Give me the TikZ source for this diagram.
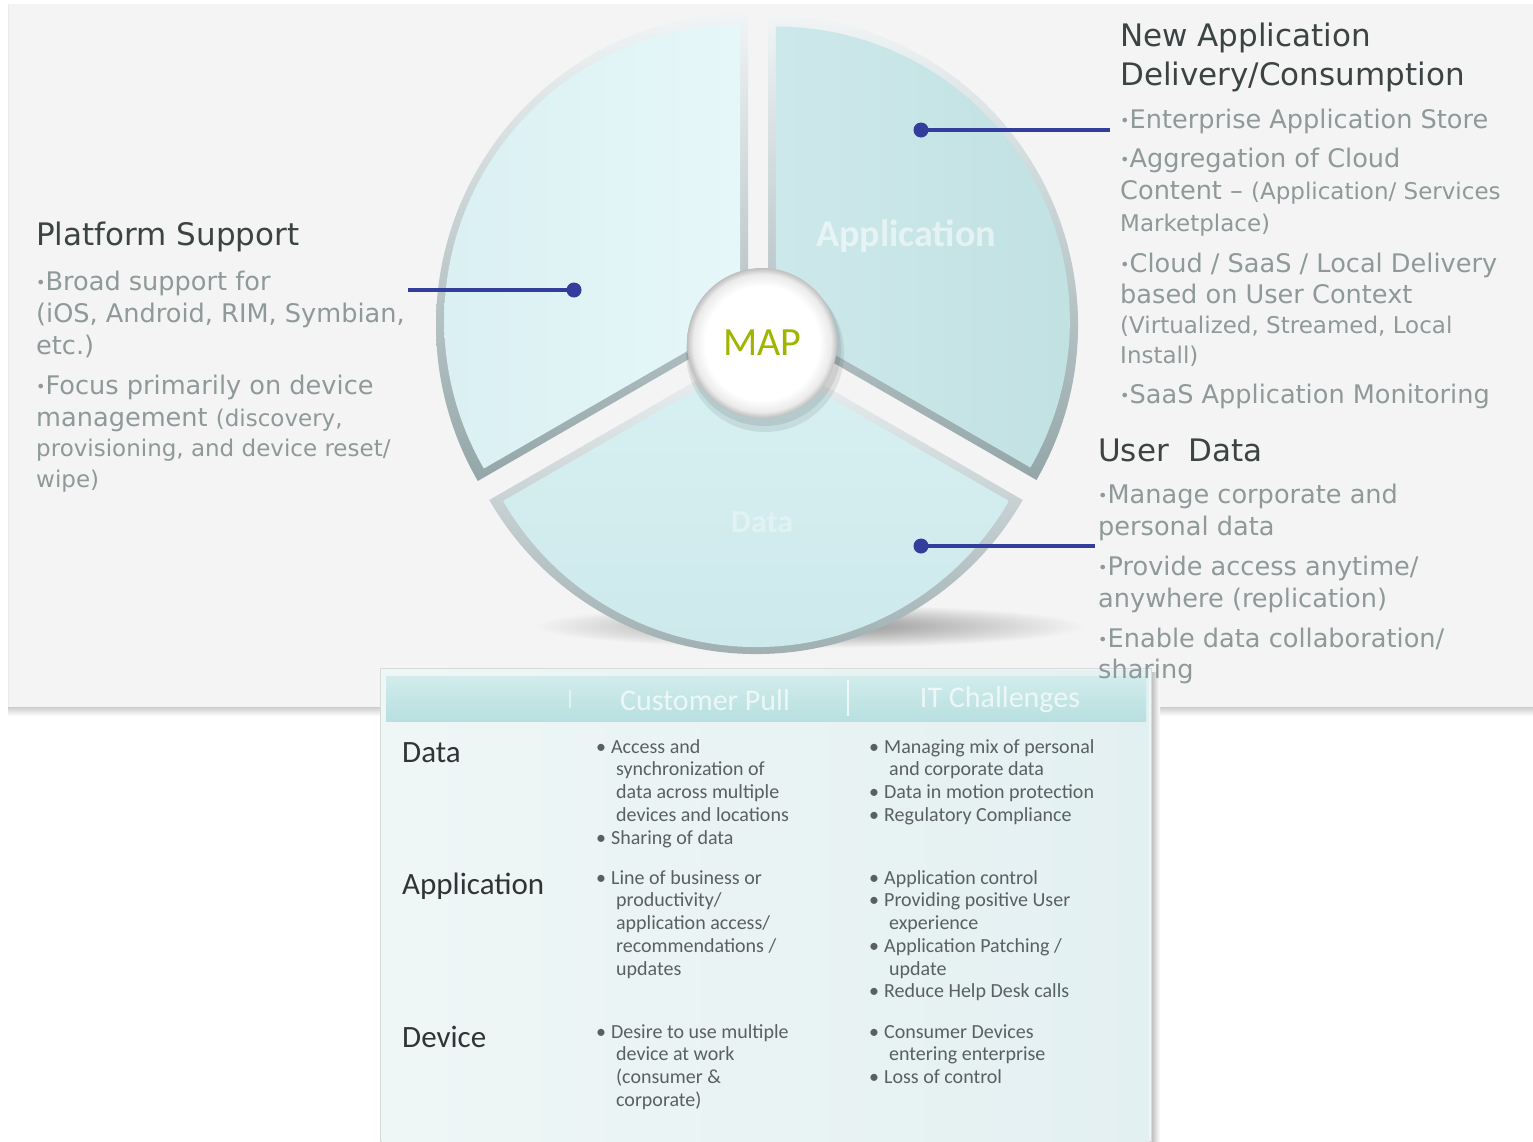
\documentclass[tikz,border=0pt]{standalone}
\usepackage{fontspec}
\setmainfont{DejaVu Sans}
\newfontfamily\tabfont{Carlito}
\usetikzlibrary{calc}
\definecolor{panelbg}{HTML}{F4F4F4}
\definecolor{headc}{HTML}{3C4343}
\definecolor{bodyc}{HTML}{8F9999}
\definecolor{connc}{HTML}{333D9B}
\definecolor{mapgreen}{HTML}{A0B400}
\definecolor{rimlight}{HTML}{F0F4F5}
\definecolor{rimdark}{HTML}{94A6A9}
\definecolor{faceLa}{HTML}{DAF0F2}
\definecolor{faceLb}{HTML}{E6F7F9}
\definecolor{faceRa}{HTML}{CDE8EA}
\definecolor{faceRb}{HTML}{C0E0E2}
\definecolor{faceBa}{HTML}{D8F0F2}
\definecolor{faceBb}{HTML}{CCE8EB}
\definecolor{hdra}{HTML}{D2ECEC}
\definecolor{hdrb}{HTML}{B8DFE0}
\definecolor{taba}{HTML}{EFF6F6}
\definecolor{tabb}{HTML}{E3F0F1}
\definecolor{rowc}{HTML}{2F3535}
\definecolor{itemc}{HTML}{5A6060}
\newcommand\smtxt[1]{{\fontsize{23}{28}\selectfont #1}}
\newcommand\bul{\raisebox{1.5pt}{\fontsize{16}{16}\selectfont •}}
\newcommand\cellfont{\tabfont\fontsize{20}{22.75}\selectfont}
\pgfdeclareradialshading{capshade}{\pgfpointorigin}{color(0bp)=(white); color(19bp)=(white); color(23bp)=(black!8); color(25bp)=(black!25); color(50bp)=(black!25)}
\begin{document}
\begin{tikzpicture}[x=1pt,y=-1pt,
  head/.style={font=\fontsize{31}{36}\selectfont, text=headc, anchor=base west, inner sep=0pt},
  body/.style={font=\fontsize{25.6}{31}\selectfont, text=bodyc, anchor=base west, inner sep=0pt},
  rowlabel/.style={font=\tabfont\fontsize{31}{36}\selectfont, text=rowc, anchor=base west, inner sep=0pt},
  cell/.style={font=\cellfont, text=itemc, anchor=base west, inner sep=0pt},
  hdrtext/.style={font=\tabfont\fontsize{30}{36}\selectfont, text=white, text opacity=0.7, inner sep=0pt},
  pielabel/.style={font=\tabfont\bfseries\fontsize{38}{44}\selectfont, text=white, inner sep=0pt},
  dot/.style={circle, fill=connc, inner sep=0pt, minimum size=15pt},
  conn/.style={draw=connc, line width=3.5pt},
  mapcap/.style={circle, minimum size=150pt, inner sep=0pt, shade, shading=capshade, text=mapgreen, font=\tabfont\fontsize{40}{44}\selectfont}
]
\useasboundingbox (0,0) rectangle (1533,1141);
\fill[white] (0,0) rectangle (1533,1141);
% panel and its shadow
\shade[top color=black!22, bottom color=white] (8,706) rectangle (1533,716);
\fill[panelbg] (8,4) rectangle (1533,707);
\draw[black!8] (8,4) -- (8,707);
% pie shadow
\shade[inner color=black!45, outer color=panelbg] (810,626) ellipse [x radius=275, y radius=22];
% left sector
\shade[top color=rimlight, bottom color=rimdark] (748,325) -- ++(-90:312) arc[start angle=-90, end angle=-210, radius=312] -- cycle;
\shade[left color=faceLa, right color=faceLb] ($(748,325)+(-150:9)$) -- ++(-90:296) arc[start angle=-90, end angle=-210, radius=296] -- cycle;
% right sector
\shade[top color=rimlight, bottom color=rimdark] (768,325) -- ++(30:310) arc[start angle=30, end angle=-90, radius=310] -- cycle;
\shade[left color=faceRa, right color=faceRb] ($(768,325)+(-30:9)$) -- ++(30:294) arc[start angle=30, end angle=-90, radius=294] -- cycle;
% bottom sector
\shade[top color=rimlight, bottom color=rimdark] (756,346) -- ++(-210:308) arc[start angle=-210, end angle=-330, radius=308] -- cycle;
\shade[top color=faceBa, bottom color=faceBb] ($(756,346)+(90:9)$) -- ++(-210:292) arc[start angle=-210, end angle=-330, radius=292] -- cycle;
% pie labels
\node[pielabel, text opacity=0.55] (pieapp) at (906,236) {Application};
\node[pielabel, text opacity=0.35, font=\tabfont\bfseries\fontsize{32}{40}\selectfont] (piedata) at (762,522) {Data};
% MAP centre
\fill[black, opacity=0.08] (765,353) circle (79);
\fill[black, opacity=0.08] (764,349) circle (77);
\node[mapcap] (map) at (762,343) {MAP};
% connectors
\node[dot] (d1) at (574,290) {};
\coordinate (e1) at (408,290);
\draw[conn] (e1) -- (d1.center);
\node[dot] (d2) at (921,130) {};
\coordinate (e2) at (1110,130);
\draw[conn] (e2) -- (d2.center);
\node[dot] (d3) at (921,546) {};
\coordinate (e3) at (1095,546);
\draw[conn] (e3) -- (d3.center);
% table
\shade[left color=black!30, right color=white] (1150,672) rectangle (1160,1141);
\fill[taba, draw=black!15] (380,668) rectangle (1151,1141);
\shade[left color=taba, right color=tabb] (382,670) rectangle (1149,1141);
\shade[top color=hdra, bottom color=hdrb] (386,676) rectangle (1146,721);
\draw[white, opacity=0.7, line width=2pt] (848,680) -- (848,716);
\draw[white, opacity=0.5, line width=1.5pt] (570,690) -- (570,708);
\node[hdrtext] (hcust) at (705,700) {Customer Pull};
\node[hdrtext] (hit) at (1000,700) {IT Challenges};
\node[rowlabel] (rdata) at (402,762) {Data};
\node[rowlabel] (rapp) at (402,894) {Application};
\node[rowlabel] (rdev) at (402,1047) {Device};
\node[cell] (c11) at (596,753) {\begin{tabular}[t]{@{}l@{\hspace{5pt}}l@{}}
• & Access and\\
  & \hspace*{5pt}synchronization of\\
  & \hspace*{5pt}data across multiple\\
  & \hspace*{5pt}devices and locations\\
• & Sharing of data
\end{tabular}};
\node[cell] (c12) at (869,753) {\begin{tabular}[t]{@{}l@{\hspace{5pt}}l@{}}
• & Managing mix of personal\\
  & \hspace*{5pt}and corporate data\\
• & Data in motion protection\\
• & Regulatory Compliance
\end{tabular}};
\node[cell] (c21) at (596,884) {\begin{tabular}[t]{@{}l@{\hspace{5pt}}l@{}}
• & Line of business or\\
  & \hspace*{5pt}productivity/\\
  & \hspace*{5pt}application access/\\
  & \hspace*{5pt}recommendations /\\
  & \hspace*{5pt}updates
\end{tabular}};
\node[cell] (c22) at (869,884) {\begin{tabular}[t]{@{}l@{\hspace{5pt}}l@{}}
• & Application control\\
• & Providing positive User\\
  & \hspace*{5pt}experience\\
• & Application Patching /\\
  & \hspace*{5pt}update\\
• & Reduce Help Desk calls
\end{tabular}};
\node[cell] (c31) at (596,1038) {\begin{tabular}[t]{@{}l@{\hspace{5pt}}l@{}}
• & Desire to use multiple\\
  & \hspace*{5pt}device at work\\
  & \hspace*{5pt}(consumer \&\\
  & \hspace*{5pt}corporate)
\end{tabular}};
\node[cell] (c32) at (869,1038) {\begin{tabular}[t]{@{}l@{\hspace{5pt}}l@{}}
• & Consumer Devices\\
  & \hspace*{5pt}entering enterprise\\
• & Loss of control
\end{tabular}};
% left text block
\node[head] (pshead) at (36,245) {Platform Support};
\foreach \yy/\lbl [count=\i] in {290/{\bul Broad support for}, 322/{(iOS, Android, RIM, Symbian,}, 354/{etc.)}, 394/{\bul Focus primarily on device}, 426/{management \smtxt{(discovery,}}, 456/{\smtxt{provisioning, and device reset/}}, 487/{\smtxt{wipe)}}}
  \node[body] (ps\i) at (36,\yy) {\lbl};
% right top block
\node[head] (nahead) at (1120,46) {New Application};
\node[head] (nahead2) at (1120,85) {Delivery/Consumption};
\foreach \yy/\lbl [count=\i] in {128/{\bul Enterprise Application Store}, 167/{\bul Aggregation of Cloud}, 199/{Content – \smtxt{(Application/ Services}}, 231/{\smtxt{Marketplace)}}, 272/{\bul Cloud / SaaS / Local Delivery}, 303/{based on User Context}, 333/{\smtxt{(Virtualized, Streamed, Local}}, 363/{\smtxt{Install)}}, 403/{\bul SaaS Application Monitoring}}
  \node[body] (na\i) at (1120,\yy) {\lbl};
% right lower block
\node[head] (udhead) at (1098,461) {User\ \ Data};
\foreach \yy/\lbl [count=\i] in {503/{\bul Manage corporate and}, 535/{personal data}, 575/{\bul Provide access anytime/}, 607/{anywhere (replication)}, 647/{\bul Enable data collaboration/}, 678/{sharing}}
  \node[body] (ud\i) at (1098,\yy) {\lbl};
\end{tikzpicture}
\end{document}
